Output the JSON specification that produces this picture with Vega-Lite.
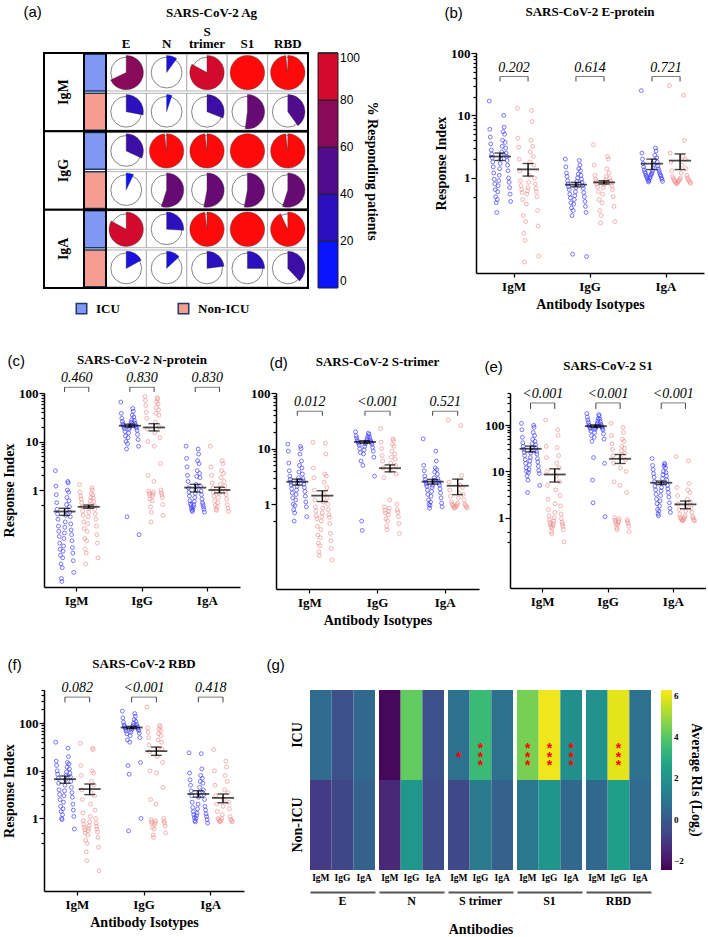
{
"$schema": "https://vega.github.io/schema/vega-lite/v6.json",
"padding": {"left": 2, "top": 3, "right": 0, "bottom": 0},
"background": "white",
"config": {
  "view": {"stroke": null},
  "font": "Liberation Serif",
  "title": {"font": "Liberation Serif", "fontWeight": "bold", "fontSize": 13, "color": "black"},
  "axis": {"labelFont": "Liberation Serif", "titleFont": "Liberation Serif", "labelFontWeight": "bold", "titleFontWeight": "bold", "labelColor": "black", "titleColor": "black", "domainColor": "black", "tickColor": "black", "grid": false},
  "legend": {"labelFont": "Liberation Serif", "titleFont": "Liberation Serif", "labelColor": "black", "titleColor": "black"},
  "header": {"labelFont": "Liberation Serif", "titleFont": "Liberation Serif", "labelFontWeight": "bold", "titleFontWeight": "bold", "labelColor": "black", "titleColor": "black"}
},
"datasets": {
  "pts": [
    {"p":"E","i":"IgM","g":"ICU","v":[17,6,4.5,3.5,2.8,2.4,2.1,1.8,1.5,1.2,0.95,0.8,0.65,0.5,0.4,0.28,0.45,0.6,0.75,0.9,1.1,1.4,1.7,2,2.3,2.6,3.2,4,5.5,10,6.5,5,3.7,3,2.5,2.2,1.9,1.6,1.3,1,0.85,0.7,0.55,0.42]},
    {"p":"E","i":"IgM","g":"Non-ICU","v":[13,4.3,3.1,2,1.3,0.9,0.75,0.65,0.58,0.45,0.25,0.13,0.045,0.1,0.2,0.38,0.55,0.62,0.7,0.85,1.1,1.8,2.6,4,12,8,3.2,2.2,1.6,1,0.8,0.68,0.6,0.5,0.3,0.17,0.056]},
    {"p":"E","i":"IgG","g":"ICU","v":[2,1.5,1.2,1.05,0.9,0.8,0.72,0.65,0.55,0.48,0.4,0.33,0.25,0.06,0.3,0.38,0.45,0.52,0.6,0.7,0.78,0.88,1,1.15,1.4,1.9,1.6,1.3,1.1,0.95,0.85,0.75,0.68,0.58,0.5,0.42,0.35,0.28,0.055]},
    {"p":"E","i":"IgG","g":"Non-ICU","v":[3.4,1.6,1.1,0.95,0.88,0.8,0.72,0.6,0.45,0.3,0.19,0.25,0.4,0.55,0.7,0.78,0.85,0.92,1.05,1.4,2.2,2,1.2,1,0.9,0.82,0.75,0.65,0.5,0.35,0.2]},
    {"p":"E","i":"IgA","g":"ICU","v":[25,2.5,2,1.7,1.5,1.35,1.25,1.18,1.1,1.05,1,0.93,0.86,0.9,0.98,1.02,1.1,1.15,1.2,1.3,1.45,1.6,1.9,2.3,3,2.7,2.1,1.8,1.55,1.4,1.3,1.2,1.12,1.08,1,0.95,0.88]},
    {"p":"E","i":"IgA","g":"Non-ICU","v":[30,2.5,1.8,1.3,1.05,0.98,0.92,0.88,0.84,0.8,0.83,0.86,0.9,0.95,1,1.2,1.6,2.2,21,4,2,1.4,1.1,1,0.95,0.9,0.85,0.82]},
    {"p":"N","i":"IgM","g":"ICU","v":[2.5,1.2,0.8,0.55,0.4,0.32,0.25,0.18,0.14,0.11,0.08,0.06,0.045,0.03,0.015,0.013,0.025,0.04,0.055,0.07,0.1,0.13,0.17,0.22,0.3,0.38,0.5,0.7,1,1.5,1.4,0.9,0.6,0.45,0.35,0.28,0.2,0.15,0.12,0.09,0.065,0.05,0.035,0.02]},
    {"p":"N","i":"IgM","g":"Non-ICU","v":[1.3,0.9,0.75,0.65,0.55,0.45,0.37,0.3,0.22,0.16,0.1,0.06,0.03,0.05,0.09,0.14,0.2,0.28,0.35,0.42,0.5,0.6,0.7,0.85,1.1,1,0.8,0.68,0.58,0.48,0.4,0.32,0.25,0.18,0.12,0.08,0.04]},
    {"p":"N","i":"IgG","g":"ICU","v":[65,38,30,26,23,21.5,20,18.5,16,13,10,7,0.28,9,12,15,18,19.5,21,22.5,25,28,35,48,42,32,27,24,22,20.5,19,17,14,11,8,0.12]},
    {"p":"N","i":"IgG","g":"Non-ICU","v":[85,70,55,40,30,18,10,2,0.95,0.85,0.78,0.65,0.45,0.22,0.35,0.6,0.75,0.82,0.9,1.5,8,15,25,38,50,65,80,75,60,45,35,20,12,3.5,1,0.88,0.8,0.7,0.5,0.3]},
    {"p":"N","i":"IgA","g":"ICU","v":[8,4.5,3,2,1.5,1.1,0.9,0.75,0.6,0.52,0.48,0.42,0.38,0.36,0.4,0.45,0.5,0.58,0.7,0.85,1,1.3,1.9,2.5,4,7,5.5,3.5,2.2,1.8,1.2,0.95,0.8,0.65,0.55,0.5,0.45,0.4,0.35]},
    {"p":"N","i":"IgA","g":"Non-ICU","v":[8,3,2,1.4,1.1,0.9,0.75,0.6,0.48,0.4,0.38,0.45,0.55,0.7,0.85,1,1.3,1.8,2.5,4,3.5,2.2,1.5,1.2,0.95,0.8,0.65,0.5,0.42,0.36]},
    {"p":"S","i":"IgM","g":"ICU","v":[12,9,5.5,4,3.2,2.8,2.5,2.2,1.9,1.6,1.3,1,0.8,0.5,0.7,0.95,1.2,1.5,1.8,2.1,2.4,2.7,3,3.8,5,8,11,10,6,4.5,3.5,2.9,2.6,2.3,2,1.7,1.4,1.1,0.9,0.6]},
    {"p":"S","i":"IgM","g":"Non-ICU","v":[13,4.5,3,1.8,1.2,0.9,0.75,0.62,0.55,0.4,0.28,0.2,0.14,0.12,0.18,0.25,0.35,0.5,0.6,0.7,0.85,1.1,1.5,2.5,3.5,12.5,8,3.2,2,1.3,1,0.8,0.65,0.58,0.45,0.3,0.22,0.16,0.1]},
    {"p":"S","i":"IgG","g":"ICU","v":[20,17,15.5,14,13.2,12.5,11.5,10,8.5,6,0.5,0.34,5,8,9.5,11,12.2,13,13.8,15,16.5,19,18,16,14.5,13.5,12.8,12,10.5,9,7,3.2]},
    {"p":"S","i":"IgG","g":"Non-ICU","v":[23,13,10,7.5,6,4.5,3,0.9,0.78,0.7,0.55,0.4,0.35,0.5,0.65,0.75,0.85,1.2,4,5.5,7,9,12,15,14,11,8,6.5,5,3.5,1,0.8,0.72,0.6,0.45,0.3]},
    {"p":"S","i":"IgA","g":"ICU","v":[15,5,4,3.2,2.8,2.5,2.3,2.1,1.8,1.5,1.2,1,0.85,0.95,1.1,1.4,1.7,2,2.2,2.5,2.7,3,3.8,4.5,9,6,4.2,3.5,2.9,2.6,2.4,2.2,1.9,1.6,1.3,1.05,0.9]},
    {"p":"S","i":"IgA","g":"Non-ICU","v":[33,2.5,1.8,1.4,1.1,1,0.95,0.9,0.85,0.88,0.92,0.98,1.05,1.3,1.6,2.2,26,3.3,2,1.5,1.2,1,0.95,0.9,0.86]},
    {"p":"S1","i":"IgM","g":"ICU","v":[110,80,55,42,35,30,26,22,18,15,12,10,8,3.5,6.5,9.5,11,14,17,20,25,28,33,40,50,70,100,90,60,45,38,32,27,24,19,16,13,10.5,9,5]},
    {"p":"S1","i":"IgM","g":"Non-ICU","v":[130,35,20,10,5,2.5,1.5,1.1,0.9,0.78,0.7,0.62,0.5,0.45,0.6,0.68,0.75,0.85,1,1.3,2,4,8,15,33,80,60,22,12,6,3,1.8,1.2,0.95,0.8,0.72,0.65,0.55,0.3]},
    {"p":"S1","i":"IgG","g":"ICU","v":[180,150,130,115,102,96,90,84,75,60,45,6.5,2.1,20,55,70,82,88,94,100,110,125,140,170,160,135,120,105,98,92,86,80,65,50,15,1.05]},
    {"p":"S1","i":"IgG","g":"Non-ICU","v":[110,60,40,30,22,15,6,1,0.88,0.8,0.72,0.6,0.55,0.7,0.78,0.85,0.95,5,12,20,28,35,50,90,70,45,32,25,18,10,3.5,0.9,0.82,0.75,0.65,0.5]},
    {"p":"S1","i":"IgA","g":"ICU","v":[19,13.5,11,9,7.5,6,4.8,4,3.2,2.5,2,1.5,1.2,1.1,1.4,1.8,2.3,3,3.8,4.5,5.5,7,8.5,10,13,15,14,12,9.5,8,6.5,5,4.2,3.5,2.8,2.1,1.6,1.3]},
    {"p":"S1","i":"IgA","g":"Non-ICU","v":[21,4.5,3,2,1.5,1.2,1,0.95,0.9,0.85,0.88,0.92,1,1.1,1.4,1.8,2.5,4,17,5.5,3.5,2.2,1.6,1.3,1.05,0.98,0.9,0.86]},
    {"p":"RBD","i":"IgM","g":"ICU","v":[40,16,13,10,8.5,7,5.5,4,3.2,2.5,1.8,1.4,1,0.95,1.2,1.6,2.2,3,3.8,5,6.5,8,9.5,12,15,30,20,14,11,9,7.5,6,4.5,3.5,2.8,2,1.5,1.1,0.6]},
    {"p":"RBD","i":"IgM","g":"Non-ICU","v":[38,13,8,4,2.5,1.3,0.9,0.75,0.65,0.58,0.5,0.35,0.2,0.13,0.3,0.45,0.55,0.62,0.7,0.85,1.1,2,3.5,6,10,30,28,9,5,3,1.5,1,0.8,0.68,0.6,0.52,0.4,0.25,0.08]},
    {"p":"RBD","i":"IgG","g":"ICU","v":[180,130,105,92,86,80,74,68,60,45,13,0.55,8.5,40,55,65,72,78,84,90,100,120,160,140,110,95,88,82,76,70,62,50,15,1]},
    {"p":"RBD","i":"IgG","g":"Non-ICU","v":[220,80,65,50,35,25,10,2.5,0.95,0.85,0.78,0.65,0.45,0.4,0.6,0.75,0.82,0.9,2,9,20,30,45,60,75,90,85,70,55,40,28,15,4.5,1,0.88,0.8,0.7,0.5]},
    {"p":"RBD","i":"IgA","g":"ICU","v":[24,9,6.5,5,3.8,3,2.2,1.7,1.4,1.2,1.05,0.9,0.85,1,1.15,1.3,1.6,2,2.8,3.5,4.5,6,8,23,11,7,5.5,4,3.2,2.5,1.8,1.5,1.25,1.1,0.95,0.8]},
    {"p":"RBD","i":"IgA","g":"Non-ICU","v":[28,10,5,3,2,1.4,1,0.95,0.88,0.86,0.9,1,1.2,1.8,2.5,4,8,16,12,6,3.5,2.2,1.6,1.1,0.95,0.9,0.85]}
  ],
  "sum": [
    {"p":"E","i":"IgM","g":"ICU","m":2.2,"lo":1.9,"hi":2.5},
    {"p":"E","i":"IgM","g":"Non-ICU","m":1.37,"lo":1.07,"hi":1.7},
    {"p":"E","i":"IgG","g":"ICU","m":0.78,"lo":0.72,"hi":0.85},
    {"p":"E","i":"IgG","g":"Non-ICU","m":0.85,"lo":0.8,"hi":0.9},
    {"p":"E","i":"IgA","g":"ICU","m":1.69,"lo":1.36,"hi":2.0},
    {"p":"E","i":"IgA","g":"Non-ICU","m":1.89,"lo":1.36,"hi":2.42},
    {"p":"N","i":"IgM","g":"ICU","m":0.36,"lo":0.3,"hi":0.42},
    {"p":"N","i":"IgM","g":"Non-ICU","m":0.45,"lo":0.42,"hi":0.49},
    {"p":"N","i":"IgG","g":"ICU","m":21.2,"lo":19.8,"hi":22.8},
    {"p":"N","i":"IgG","g":"Non-ICU","m":19.5,"lo":16.5,"hi":23.3},
    {"p":"N","i":"IgA","g":"ICU","m":1.12,"lo":0.91,"hi":1.31},
    {"p":"N","i":"IgA","g":"Non-ICU","m":1.0,"lo":0.87,"hi":1.14},
    {"p":"S","i":"IgM","g":"ICU","m":2.54,"lo":2.21,"hi":2.83},
    {"p":"S","i":"IgM","g":"Non-ICU","m":1.43,"lo":1.12,"hi":1.75},
    {"p":"S","i":"IgG","g":"ICU","m":13.2,"lo":12.5,"hi":13.9},
    {"p":"S","i":"IgG","g":"Non-ICU","m":4.45,"lo":3.83,"hi":5.1},
    {"p":"S","i":"IgA","g":"ICU","m":2.55,"lo":2.3,"hi":2.8},
    {"p":"S","i":"IgA","g":"Non-ICU","m":2.15,"lo":1.49,"hi":2.83},
    {"p":"S1","i":"IgM","g":"ICU","m":31,"lo":26.6,"hi":35.4},
    {"p":"S1","i":"IgM","g":"Non-ICU","m":8.6,"lo":5.9,"hi":11.4},
    {"p":"S1","i":"IgG","g":"ICU","m":95.7,"lo":90,"hi":102},
    {"p":"S1","i":"IgG","g":"Non-ICU","m":18.8,"lo":14.9,"hi":23.3},
    {"p":"S1","i":"IgA","g":"ICU","m":5.7,"lo":5.2,"hi":6.2},
    {"p":"S1","i":"IgA","g":"Non-ICU","m":1.94,"lo":1.56,"hi":2.29},
    {"p":"RBD","i":"IgM","g":"ICU","m":6.7,"lo":5.5,"hi":7.8},
    {"p":"RBD","i":"IgM","g":"Non-ICU","m":4.15,"lo":3.17,"hi":5.3},
    {"p":"RBD","i":"IgG","g":"ICU","m":81.5,"lo":77,"hi":86},
    {"p":"RBD","i":"IgG","g":"Non-ICU","m":26,"lo":21.2,"hi":31.6},
    {"p":"RBD","i":"IgA","g":"ICU","m":3.27,"lo":2.8,"hi":3.83},
    {"p":"RBD","i":"IgA","g":"Non-ICU","m":2.71,"lo":2.14,"hi":3.27}
  ],
  "pv": [
    {"p":"E","i":"IgM","t":"0.202"},{"p":"E","i":"IgG","t":"0.614"},{"p":"E","i":"IgA","t":"0.721"},
    {"p":"N","i":"IgM","t":"0.460"},{"p":"N","i":"IgG","t":"0.830"},{"p":"N","i":"IgA","t":"0.830"},
    {"p":"S","i":"IgM","t":"0.012"},{"p":"S","i":"IgG","t":"<0.001"},{"p":"S","i":"IgA","t":"0.521"},
    {"p":"S1","i":"IgM","t":"<0.001"},{"p":"S1","i":"IgG","t":"<0.001"},{"p":"S1","i":"IgA","t":"<0.001"},
    {"p":"RBD","i":"IgM","t":"0.082"},{"p":"RBD","i":"IgG","t":"<0.001"},{"p":"RBD","i":"IgA","t":"0.418"}
  ],
  "pie": [
    {"iso":"IgM","g":"ICU","ag":"E","pct":68},{"iso":"IgM","g":"ICU","ag":"N","pct":10},{"iso":"IgM","g":"ICU","ag":"S trimer","pct":83},{"iso":"IgM","g":"ICU","ag":"S1","pct":100},{"iso":"IgM","g":"ICU","ag":"RBD","pct":98},
    {"iso":"IgM","g":"Non-ICU","ag":"E","pct":28},{"iso":"IgM","g":"Non-ICU","ag":"N","pct":5},{"iso":"IgM","g":"Non-ICU","ag":"S trimer","pct":31},{"iso":"IgM","g":"Non-ICU","ag":"S1","pct":52},{"iso":"IgM","g":"Non-ICU","ag":"RBD","pct":40},
    {"iso":"IgG","g":"ICU","ag":"E","pct":32},{"iso":"IgG","g":"ICU","ag":"N","pct":98},{"iso":"IgG","g":"ICU","ag":"S trimer","pct":98},{"iso":"IgG","g":"ICU","ag":"S1","pct":100},{"iso":"IgG","g":"ICU","ag":"RBD","pct":98},
    {"iso":"IgG","g":"Non-ICU","ag":"E","pct":7},{"iso":"IgG","g":"Non-ICU","ag":"N","pct":55},{"iso":"IgG","g":"Non-ICU","ag":"S trimer","pct":53},{"iso":"IgG","g":"Non-ICU","ag":"S1","pct":53},{"iso":"IgG","g":"Non-ICU","ag":"RBD","pct":55},
    {"iso":"IgA","g":"ICU","ag":"E","pct":83},{"iso":"IgA","g":"ICU","ag":"N","pct":26},{"iso":"IgA","g":"ICU","ag":"S trimer","pct":98},{"iso":"IgA","g":"ICU","ag":"S1","pct":100},{"iso":"IgA","g":"ICU","ag":"RBD","pct":93},
    {"iso":"IgA","g":"Non-ICU","ag":"E","pct":17},{"iso":"IgA","g":"Non-ICU","ag":"N","pct":13},{"iso":"IgA","g":"Non-ICU","ag":"S trimer","pct":23},{"iso":"IgA","g":"Non-ICU","ag":"S1","pct":25},{"iso":"IgA","g":"Non-ICU","ag":"RBD","pct":38}
  ],
  "heat": [
    {"ag":"E","i":"IgM","g":"ICU","val":0.6},
    {"ag":"E","i":"IgG","g":"ICU","val":-0.35},
    {"ag":"E","i":"IgA","g":"ICU","val":0.45},
    {"ag":"N","i":"IgM","g":"ICU","val":-2.3},
    {"ag":"N","i":"IgG","g":"ICU","val":4.2},
    {"ag":"N","i":"IgA","g":"ICU","val":-0.35},
    {"ag":"S trimer","i":"IgM","g":"ICU","val":0.8,"s":1},
    {"ag":"S trimer","i":"IgG","g":"ICU","val":3.5,"s":3},
    {"ag":"S trimer","i":"IgA","g":"ICU","val":0.8},
    {"ag":"S1","i":"IgM","g":"ICU","val":4.5,"s":3},
    {"ag":"S1","i":"IgG","g":"ICU","val":6.1,"s":3},
    {"ag":"S1","i":"IgA","g":"ICU","val":1.9,"s":3},
    {"ag":"RBD","i":"IgM","g":"ICU","val":1.95},
    {"ag":"RBD","i":"IgG","g":"ICU","val":5.95,"s":3},
    {"ag":"RBD","i":"IgA","g":"ICU","val":0.8},
    {"ag":"E","i":"IgM","g":"Non-ICU","val":-0.95},
    {"ag":"E","i":"IgG","g":"Non-ICU","val":-0.6},
    {"ag":"E","i":"IgA","g":"Non-ICU","val":0.25},
    {"ag":"N","i":"IgM","g":"Non-ICU","val":-1.5},
    {"ag":"N","i":"IgG","g":"Non-ICU","val":2.2},
    {"ag":"N","i":"IgA","g":"Non-ICU","val":-0.45},
    {"ag":"S trimer","i":"IgM","g":"Non-ICU","val":-0.55},
    {"ag":"S trimer","i":"IgG","g":"Non-ICU","val":1.15},
    {"ag":"S trimer","i":"IgA","g":"Non-ICU","val":0.25},
    {"ag":"S1","i":"IgM","g":"Non-ICU","val":1.05},
    {"ag":"S1","i":"IgG","g":"Non-ICU","val":2.1},
    {"ag":"S1","i":"IgA","g":"Non-ICU","val":0.5},
    {"ag":"RBD","i":"IgM","g":"Non-ICU","val":0.45},
    {"ag":"RBD","i":"IgG","g":"Non-ICU","val":2.45},
    {"ag":"RBD","i":"IgA","g":"Non-ICU","val":0.55}
  ]
},
"spacing": 36,
"resolve": {"scale": {"color": "independent", "fill": "independent"}},
"vconcat": [
{
  "spacing": 54,
  "resolve": {"scale": {"color": "independent", "fill": "independent"}},
  "hconcat": [
  {
    "bounds": "flush",
    "spacing": 0,
    "resolve": {"scale": {"color": "independent", "fill": "independent"}},
    "hconcat": [
      {
        "width": 40, "height": 235,
        "view": {"stroke": "black", "strokeWidth": 2},
        "data": {"name": "pie"},
        "transform": [{"aggregate": [], "groupby": ["iso"]}],
        "encoding": {"y": {"field": "iso", "type": "nominal", "sort": ["IgM","IgG","IgA"], "scale": {"paddingInner": 0, "paddingOuter": 0},
          "axis": {"title": "(a)", "titleFont": "Liberation Sans", "titleFontWeight": "normal", "titleFontSize": 15, "titleAngle": 0, "titleAlign": "left", "titleBaseline": "top", "titleX": -21, "titleY": -49, "labels": false, "ticks": false, "domain": false, "grid": false}}},
        "layer": [
          {"mark": {"type": "rect", "fill": "white", "stroke": "black", "strokeWidth": 2}},
          {"mark": {"type": "text", "angle": 270, "fontSize": 14, "fontWeight": "bold", "font": "Liberation Serif", "baseline": "middle", "align": "center", "color": "black"},
           "encoding": {"text": {"field": "iso"}}}
        ]
      },
      {
        "width": 22, "height": 235,
        "view": {"stroke": "black", "strokeWidth": 2},
        "data": {"name": "pie"},
        "layer": [
          {"transform": [{"aggregate": [], "groupby": ["iso", "g"]}],
           "mark": {"type": "rect", "stroke": "#1f3864", "strokeWidth": 1.5},
           "encoding": {
             "y": {"field": "iso", "type": "nominal", "sort": ["IgM","IgG","IgA"], "scale": {"paddingInner": 0, "paddingOuter": 0}, "axis": null},
             "yOffset": {"field": "g", "type": "nominal", "sort": ["ICU","Non-ICU"], "scale": {"paddingInner": 0.06, "paddingOuter": 0.03}},
             "fill": {"field": "g", "type": "nominal", "scale": {"domain": ["ICU","Non-ICU"], "range": ["#7f98f5","#f59d90"]},
               "legend": {"orient": "bottom", "offset": 14, "title": null, "direction": "horizontal", "symbolType": "square", "symbolSize": 110, "symbolStrokeColor": "#1f3864", "symbolStrokeWidth": 1.5, "labelFontSize": 13, "labelFontWeight": "bold", "columnPadding": 55, "labelOffset": 8, "symbolOffset": -9}}
           }},
          {"transform": [{"aggregate": [], "groupby": ["iso"]}],
           "mark": {"type": "rect", "fillOpacity": 0, "stroke": "black", "strokeWidth": 2},
           "encoding": {"y": {"field": "iso", "type": "nominal", "sort": ["IgM","IgG","IgA"], "scale": {"paddingInner": 0, "paddingOuter": 0}, "axis": null}}}
        ]
      },
      {
        "width": 202, "height": 235,
        "view": {"stroke": "black", "strokeWidth": 2},
        "data": {"name": "pie"},
        "layer": [
          {"mark": {"type": "rect", "fill": "white", "stroke": "#a0a0a0", "strokeWidth": 0.8},
           "encoding": {
             "x": {"field": "ag", "type": "nominal", "sort": ["E","N","S trimer","S1","RBD"], "scale": {"paddingInner": 0, "paddingOuter": 0}, "axis": {"orient": "top", "title": "SARS-CoV-2 Ag", "titleX": 105, "titleY": -34, "titleAlign": "center", "titleBaseline": "bottom", "titleFontSize": 13, "titleAngle": 0, "labelAngle": 0, "domain": false, "ticks": false, "labelFontSize": 13, "labelPadding": 15, "labelLineHeight": 12, "labelBaseline": "bottom", "labelExpr": "datum.label == 'S trimer' ? ['S','trimer'] : ['', datum.label]"}},
             "y": {"field": "iso", "type": "nominal", "sort": ["IgM","IgG","IgA"], "scale": {"paddingInner": 0, "paddingOuter": 0}, "axis": null},
             "yOffset": {"field": "g", "type": "nominal", "sort": ["ICU","Non-ICU"], "scale": {"paddingInner": 0, "paddingOuter": 0}}
           }},
          {"mark": {"type": "point", "shape": "circle", "size": 950, "filled": true, "fill": "white", "stroke": "#666666", "strokeWidth": 0.8, "opacity": 1},
           "encoding": {
             "x": {"field": "ag", "type": "nominal", "sort": ["E","N","S trimer","S1","RBD"], "scale": {"paddingInner": 0, "paddingOuter": 0}, "axis": {"orient": "top", "title": "SARS-CoV-2 Ag", "titleX": 105, "titleY": -34, "titleAlign": "center", "titleBaseline": "bottom", "titleFontSize": 13, "titleAngle": 0, "labelAngle": 0, "domain": false, "ticks": false, "labelFontSize": 13, "labelPadding": 15, "labelLineHeight": 12, "labelBaseline": "bottom", "labelExpr": "datum.label == 'S trimer' ? ['S','trimer'] : ['', datum.label]"}},
             "y": {"field": "iso", "type": "nominal", "sort": ["IgM","IgG","IgA"], "scale": {"paddingInner": 0, "paddingOuter": 0}, "axis": null},
             "yOffset": {"field": "g", "type": "nominal", "sort": ["ICU","Non-ICU"], "scale": {"paddingInner": 0, "paddingOuter": 0}}
           }},
          {"mark": {"type": "arc", "outerRadius": 17.2, "stroke": "#333333", "strokeWidth": 0.4},
           "encoding": {
             "x": {"field": "ag", "type": "nominal", "sort": ["E","N","S trimer","S1","RBD"], "scale": {"paddingInner": 0, "paddingOuter": 0}, "axis": {"orient": "top", "title": "SARS-CoV-2 Ag", "titleX": 105, "titleY": -34, "titleAlign": "center", "titleBaseline": "bottom", "titleFontSize": 13, "titleAngle": 0, "labelAngle": 0, "domain": false, "ticks": false, "labelFontSize": 13, "labelPadding": 15, "labelLineHeight": 12, "labelBaseline": "bottom", "labelExpr": "datum.label == 'S trimer' ? ['S','trimer'] : ['', datum.label]"}},
             "y": {"field": "iso", "type": "nominal", "sort": ["IgM","IgG","IgA"], "scale": {"paddingInner": 0, "paddingOuter": 0}, "axis": null},
             "yOffset": {"field": "g", "type": "nominal", "sort": ["ICU","Non-ICU"], "scale": {"paddingInner": 0, "paddingOuter": 0}},
             "theta": {"field": "pct", "type": "quantitative", "scale": {"domain": [0, 100], "range": [0, 6.2832]}, "stack": null},
             "theta2": {"datum": 0},
             "color": {"field": "pct", "type": "quantitative",
               "scale": {"type": "quantize", "domain": [0, 100], "range": ["#0a14ff","#1c12dc","#2c10c0","#3c0ea6","#500c8c","#680a74","#8a0a5a","#b00a44","#d20a2e","#ff0a0a"]},
               "legend": {"title": "% Responding patients", "orient": "right", "type": "gradient", "gradientLength": 235, "gradientThickness": 20, "offset": 10, "titleOrient": "right", "titleFontSize": 14, "titleFontWeight": "bold", "labelFont": "Liberation Sans", "labelFontSize": 12, "labelFontWeight": "normal", "values": [0.5, 20, 40, 60, 80, 100], "labelExpr": "datum.value < 1 ? '0' : datum.label", "gradientStrokeColor": "#222222", "gradientStrokeWidth": 1}}
           }},
          {"transform": [{"aggregate": [], "groupby": ["iso"]}],
           "mark": {"type": "rect", "fillOpacity": 0, "stroke": "black", "strokeWidth": 2},
           "encoding": {"y": {"field": "iso", "type": "nominal", "sort": ["IgM","IgG","IgA"], "scale": {"paddingInner": 0, "paddingOuter": 0}, "axis": null}}}
        ]
      }
    ]
  },
  {
    "title": {"text": "(b)", "anchor": "start", "frame": "bounds", "font": "Liberation Sans", "fontWeight": "normal", "fontSize": 15, "offset": -15, "dx": 10},
    "vconcat": [{
      "width": 228, "height": 220,
      "title": {"text": "SARS-CoV-2 E-protein", "offset": 28},
      "encoding": {"x": {"field": "i", "type": "nominal", "sort": ["IgM","IgG","IgA"], "scale": {"paddingInner": 0, "paddingOuter": 0}, "axis": {"title": "Antibody Isotypes", "labelAngle": 0, "labelFontSize": 13, "titleFontSize": 14, "domainWidth": 1.5, "tickWidth": 1.2, "tickSize": 4, "labelPadding": 3, "titlePadding": 4}}},
      "resolve": {"scale": {"xOffset": "independent"}},
      "layer": [
        {"data": {"name": "pts"}, "transform": [{"filter": "datum.p=='E' && datum.g=='ICU'"}, {"flatten": ["v"]}, {"window": [{"op": "row_number", "as": "rn"}], "groupby": ["i"]}, {"window": [{"op": "percent_rank", "as": "pr"}], "sort": [{"field": "rn"}], "groupby": ["i"]}],
         "mark": {"type": "point", "filled": false, "size": 15, "strokeWidth": 0.8, "color": "#3a3aff", "opacity": 0.85},
         "encoding": {"y": {"field": "v", "type": "quantitative", "scale": {"type": "log", "domain": [0.03, 100]}, "title": "Response Index", "axis": {"values": [0.5,2,3,4,5,6,7,8,9,1,10,20,30,40,50,60,70,80,90,100], "labelExpr": "datum.value == 1 ? '1' : datum.value == 10 ? '10' : datum.value == 100 ? '100' : ''", "tickSize": {"condition": {"test": "datum.value == 1 || datum.value == 10 || datum.value == 100", "value": 5}, "value": 3}, "tickWidth": 1.2, "labelFontSize": 13, "titleFontSize": 14, "domainWidth": 1.5, "labelPadding": 1, "titlePadding": 2}},
           "xOffset": {"field": "pr", "type": "quantitative", "scale": {"domain": [-0.625, 2.946], "nice": false, "zero": false}}}},
        {"data": {"name": "pts"}, "transform": [{"filter": "datum.p=='E' && datum.g=='Non-ICU'"}, {"flatten": ["v"]}, {"window": [{"op": "row_number", "as": "rn"}], "groupby": ["i"]}, {"window": [{"op": "percent_rank", "as": "pr"}], "sort": [{"field": "rn"}], "groupby": ["i"]}],
         "mark": {"type": "point", "filled": false, "size": 15, "strokeWidth": 0.8, "color": "#f0908f", "opacity": 0.85},
         "encoding": {"y": {"field": "v", "type": "quantitative", "scale": {"type": "log", "domain": [0.03, 100]}, "title": "Response Index"},
           "xOffset": {"field": "pr", "type": "quantitative", "scale": {"domain": [-1.946, 1.625], "nice": false, "zero": false}}}},
        {"data": {"name": "sum"}, "transform": [{"filter": "datum.p=='E'"}],
         "mark": {"type": "tick", "orient": "horizontal", "size": 22, "thickness": 1.8, "color": "black"},
         "encoding": {"y": {"field": "m", "type": "quantitative", "scale": {"type": "log", "domain": [0.03, 100]}, "title": "Response Index"}, "xOffset": {"field": "g", "type": "nominal", "sort": ["ICU","Non-ICU"], "scale": {"paddingInner": 0.5, "paddingOuter": 0.6}}}},
        {"data": {"name": "sum"}, "transform": [{"filter": "datum.p=='E'"}],
         "mark": {"type": "rule", "strokeWidth": 1.4, "color": "black"},
         "encoding": {"y": {"field": "lo", "type": "quantitative", "scale": {"type": "log", "domain": [0.03, 100]}, "title": "Response Index"}, "y2": {"field": "hi"}, "xOffset": {"field": "g", "type": "nominal", "sort": ["ICU","Non-ICU"], "scale": {"paddingInner": 0.5, "paddingOuter": 0.6}}}},
        {"data": {"name": "sum"}, "transform": [{"filter": "datum.p=='E'"}, {"fold": ["lo","hi"], "as": ["k","cv"]}],
         "mark": {"type": "tick", "orient": "horizontal", "size": 11, "thickness": 1.4, "color": "black"},
         "encoding": {"y": {"field": "cv", "type": "quantitative", "scale": {"type": "log", "domain": [0.03, 100]}, "title": "Response Index"}, "xOffset": {"field": "g", "type": "nominal", "sort": ["ICU","Non-ICU"], "scale": {"paddingInner": 0.5, "paddingOuter": 0.6}}}},
        {"data": {"name": "sum"}, "transform": [{"filter": "datum.p=='E'"}],
         "mark": {"type": "rule", "strokeWidth": 1, "color": "#444444"},
         "encoding": {"y": {"datum": 35, "type": "quantitative", "scale": {"type": "log", "domain": [0.03, 100]}, "title": "Response Index"}, "y2": {"datum": 42}, "xOffset": {"field": "g", "type": "nominal", "sort": ["ICU","Non-ICU"], "scale": {"paddingInner": 0.5, "paddingOuter": 0.6}}}},
        {"data": {"name": "pv"}, "transform": [{"filter": "datum.p=='E'"}],
         "mark": {"type": "tick", "orient": "horizontal", "size": 28, "thickness": 1, "color": "#444444"},
         "encoding": {"y": {"datum": 42, "type": "quantitative", "scale": {"type": "log", "domain": [0.03, 100]}, "title": "Response Index"}}},
        {"data": {"name": "pv"}, "transform": [{"filter": "datum.p=='E'"}],
         "mark": {"type": "text", "font": "Liberation Serif", "fontStyle": "italic", "fontSize": 14, "baseline": "alphabetic", "dy": -5, "color": "black"},
         "encoding": {"y": {"datum": 42, "type": "quantitative", "scale": {"type": "log", "domain": [0.03, 100]}, "title": "Response Index"}, "text": {"field": "t"}}}
      ]
    }]
  }
  ]
},
{
  "spacing": 30,
  "resolve": {"scale": {"color": "independent", "fill": "independent"}},
  "vconcat": [
  {
    "spacing": 10,
    "hconcat": [
    {
      "title": {"text": "(c)", "anchor": "start", "frame": "bounds", "font": "Liberation Sans", "fontWeight": "normal", "fontSize": 15, "offset": -15, "dx": 5},
      "vconcat": [{
        "width": 196, "height": 194,
        "title": {"text": "SARS-CoV-2 N-protein", "offset": 4},
        "encoding": {"x": {"field": "i", "type": "nominal", "sort": ["IgM","IgG","IgA"], "scale": {"paddingInner": 0, "paddingOuter": 0}, "axis": {"title": null, "labelAngle": 0, "labelFontSize": 13, "titleFontSize": 14, "domainWidth": 1.5, "tickWidth": 1.2, "tickSize": 4, "labelPadding": 3, "titlePadding": 4}}},
        "resolve": {"scale": {"xOffset": "independent"}},
        "layer": [
          {"data": {"name": "pts"}, "transform": [{"filter": "datum.p=='N' && datum.g=='ICU'"}, {"flatten": ["v"]}, {"window": [{"op": "row_number", "as": "rn"}], "groupby": ["i"]}, {"window": [{"op": "percent_rank", "as": "pr"}], "sort": [{"field": "rn"}], "groupby": ["i"]}],
           "mark": {"type": "point", "filled": false, "size": 15, "strokeWidth": 0.8, "color": "#3a3aff", "opacity": 0.85},
           "encoding": {"y": {"field": "v", "type": "quantitative", "scale": {"type": "log", "domain": [0.01, 100]}, "title": "Response Index", "axis": {"values": [0.5,2,3,4,5,6,7,8,9,1,10,20,30,40,50,60,70,80,90,100], "labelExpr": "datum.value == 1 ? '1' : datum.value == 10 ? '10' : datum.value == 100 ? '100' : ''", "tickSize": {"condition": {"test": "datum.value == 1 || datum.value == 10 || datum.value == 100", "value": 5}, "value": 3}, "tickWidth": 1.2, "labelFontSize": 13, "titleFontSize": 14, "domainWidth": 1.5, "labelPadding": 1, "titlePadding": 2}},
             "xOffset": {"field": "pr", "type": "quantitative", "scale": {"domain": [-0.625, 2.946], "nice": false, "zero": false}}}},
          {"data": {"name": "pts"}, "transform": [{"filter": "datum.p=='N' && datum.g=='Non-ICU'"}, {"flatten": ["v"]}, {"window": [{"op": "row_number", "as": "rn"}], "groupby": ["i"]}, {"window": [{"op": "percent_rank", "as": "pr"}], "sort": [{"field": "rn"}], "groupby": ["i"]}],
           "mark": {"type": "point", "filled": false, "size": 15, "strokeWidth": 0.8, "color": "#f0908f", "opacity": 0.85},
           "encoding": {"y": {"field": "v", "type": "quantitative", "scale": {"type": "log", "domain": [0.01, 100]}, "title": "Response Index"},
             "xOffset": {"field": "pr", "type": "quantitative", "scale": {"domain": [-1.946, 1.625], "nice": false, "zero": false}}}},
          {"data": {"name": "sum"}, "transform": [{"filter": "datum.p=='N'"}],
           "mark": {"type": "tick", "orient": "horizontal", "size": 22, "thickness": 1.8, "color": "black"},
           "encoding": {"y": {"field": "m", "type": "quantitative", "scale": {"type": "log", "domain": [0.01, 100]}, "title": "Response Index"}, "xOffset": {"field": "g", "type": "nominal", "sort": ["ICU","Non-ICU"], "scale": {"paddingInner": 0.5, "paddingOuter": 0.6}}}},
          {"data": {"name": "sum"}, "transform": [{"filter": "datum.p=='N'"}],
           "mark": {"type": "rule", "strokeWidth": 1.4, "color": "black"},
           "encoding": {"y": {"field": "lo", "type": "quantitative", "scale": {"type": "log", "domain": [0.01, 100]}, "title": "Response Index"}, "y2": {"field": "hi"}, "xOffset": {"field": "g", "type": "nominal", "sort": ["ICU","Non-ICU"], "scale": {"paddingInner": 0.5, "paddingOuter": 0.6}}}},
          {"data": {"name": "sum"}, "transform": [{"filter": "datum.p=='N'"}, {"fold": ["lo","hi"], "as": ["k","cv"]}],
           "mark": {"type": "tick", "orient": "horizontal", "size": 11, "thickness": 1.4, "color": "black"},
           "encoding": {"y": {"field": "cv", "type": "quantitative", "scale": {"type": "log", "domain": [0.01, 100]}, "title": "Response Index"}, "xOffset": {"field": "g", "type": "nominal", "sort": ["ICU","Non-ICU"], "scale": {"paddingInner": 0.5, "paddingOuter": 0.6}}}},
          {"data": {"name": "sum"}, "transform": [{"filter": "datum.p=='N'"}],
           "mark": {"type": "rule", "strokeWidth": 1, "color": "#444444"},
           "encoding": {"y": {"datum": 105, "type": "quantitative", "scale": {"type": "log", "domain": [0.01, 100]}, "title": "Response Index"}, "y2": {"datum": 131}, "xOffset": {"field": "g", "type": "nominal", "sort": ["ICU","Non-ICU"], "scale": {"paddingInner": 0.5, "paddingOuter": 0.6}}}},
          {"data": {"name": "pv"}, "transform": [{"filter": "datum.p=='N'"}],
           "mark": {"type": "tick", "orient": "horizontal", "size": 25, "thickness": 1, "color": "#444444"},
           "encoding": {"y": {"datum": 131, "type": "quantitative", "scale": {"type": "log", "domain": [0.01, 100]}, "title": "Response Index"}}},
          {"data": {"name": "pv"}, "transform": [{"filter": "datum.p=='N'"}],
           "mark": {"type": "text", "font": "Liberation Serif", "fontStyle": "italic", "fontSize": 14, "baseline": "alphabetic", "dy": -5, "color": "black"},
           "encoding": {"y": {"datum": 131, "type": "quantitative", "scale": {"type": "log", "domain": [0.01, 100]}, "title": "Response Index"}, "text": {"field": "t"}}}
        ]
      }]
    },
    {
      "spacing": 5,
      "hconcat": [
      {
        "title": {"text": "(d)", "anchor": "start", "frame": "bounds", "font": "Liberation Sans", "fontWeight": "normal", "fontSize": 15, "offset": -15, "dx": 19},
        "vconcat": [{
          "width": 203, "height": 196,
          "title": {"text": "SARS-CoV-2 S-trimer", "offset": 18},
          "encoding": {"x": {"field": "i", "type": "nominal", "sort": ["IgM","IgG","IgA"], "scale": {"paddingInner": 0, "paddingOuter": 0}, "axis": {"title": "Antibody Isotypes", "labelAngle": 0, "labelFontSize": 13, "titleFontSize": 14, "domainWidth": 1.5, "tickWidth": 1.2, "tickSize": 4, "labelPadding": 3, "titlePadding": 4}}},
          "resolve": {"scale": {"xOffset": "independent"}},
          "layer": [
            {"data": {"name": "pts"}, "transform": [{"filter": "datum.p=='S' && datum.g=='ICU'"}, {"flatten": ["v"]}, {"window": [{"op": "row_number", "as": "rn"}], "groupby": ["i"]}, {"window": [{"op": "percent_rank", "as": "pr"}], "sort": [{"field": "rn"}], "groupby": ["i"]}],
             "mark": {"type": "point", "filled": false, "size": 15, "strokeWidth": 0.8, "color": "#3a3aff", "opacity": 0.85},
             "encoding": {"y": {"field": "v", "type": "quantitative", "scale": {"type": "log", "domain": [0.03, 100]}, "title": null, "axis": {"values": [0.5,2,3,4,5,6,7,8,9,1,10,20,30,40,50,60,70,80,90,100], "labelExpr": "datum.value == 1 ? '1' : datum.value == 10 ? '10' : datum.value == 100 ? '100' : ''", "tickSize": {"condition": {"test": "datum.value == 1 || datum.value == 10 || datum.value == 100", "value": 5}, "value": 3}, "tickWidth": 1.2, "labelFontSize": 13, "titleFontSize": 14, "domainWidth": 1.5, "labelPadding": 1, "titlePadding": 2}},
               "xOffset": {"field": "pr", "type": "quantitative", "scale": {"domain": [-0.625, 2.946], "nice": false, "zero": false}}}},
            {"data": {"name": "pts"}, "transform": [{"filter": "datum.p=='S' && datum.g=='Non-ICU'"}, {"flatten": ["v"]}, {"window": [{"op": "row_number", "as": "rn"}], "groupby": ["i"]}, {"window": [{"op": "percent_rank", "as": "pr"}], "sort": [{"field": "rn"}], "groupby": ["i"]}],
             "mark": {"type": "point", "filled": false, "size": 15, "strokeWidth": 0.8, "color": "#f0908f", "opacity": 0.85},
             "encoding": {"y": {"field": "v", "type": "quantitative", "scale": {"type": "log", "domain": [0.03, 100]}, "title": null},
               "xOffset": {"field": "pr", "type": "quantitative", "scale": {"domain": [-1.946, 1.625], "nice": false, "zero": false}}}},
            {"data": {"name": "sum"}, "transform": [{"filter": "datum.p=='S'"}],
             "mark": {"type": "tick", "orient": "horizontal", "size": 22, "thickness": 1.8, "color": "black"},
             "encoding": {"y": {"field": "m", "type": "quantitative", "scale": {"type": "log", "domain": [0.03, 100]}, "title": null}, "xOffset": {"field": "g", "type": "nominal", "sort": ["ICU","Non-ICU"], "scale": {"paddingInner": 0.5, "paddingOuter": 0.6}}}},
            {"data": {"name": "sum"}, "transform": [{"filter": "datum.p=='S'"}],
             "mark": {"type": "rule", "strokeWidth": 1.4, "color": "black"},
             "encoding": {"y": {"field": "lo", "type": "quantitative", "scale": {"type": "log", "domain": [0.03, 100]}, "title": null}, "y2": {"field": "hi"}, "xOffset": {"field": "g", "type": "nominal", "sort": ["ICU","Non-ICU"], "scale": {"paddingInner": 0.5, "paddingOuter": 0.6}}}},
            {"data": {"name": "sum"}, "transform": [{"filter": "datum.p=='S'"}, {"fold": ["lo","hi"], "as": ["k","cv"]}],
             "mark": {"type": "tick", "orient": "horizontal", "size": 11, "thickness": 1.4, "color": "black"},
             "encoding": {"y": {"field": "cv", "type": "quantitative", "scale": {"type": "log", "domain": [0.03, 100]}, "title": null}, "xOffset": {"field": "g", "type": "nominal", "sort": ["ICU","Non-ICU"], "scale": {"paddingInner": 0.5, "paddingOuter": 0.6}}}},
            {"data": {"name": "sum"}, "transform": [{"filter": "datum.p=='S'"}],
             "mark": {"type": "rule", "strokeWidth": 1, "color": "#444444"},
             "encoding": {"y": {"datum": 39, "type": "quantitative", "scale": {"type": "log", "domain": [0.03, 100]}, "title": null}, "y2": {"datum": 47}, "xOffset": {"field": "g", "type": "nominal", "sort": ["ICU","Non-ICU"], "scale": {"paddingInner": 0.5, "paddingOuter": 0.6}}}},
            {"data": {"name": "pv"}, "transform": [{"filter": "datum.p=='S'"}],
             "mark": {"type": "tick", "orient": "horizontal", "size": 25, "thickness": 1, "color": "#444444"},
             "encoding": {"y": {"datum": 47, "type": "quantitative", "scale": {"type": "log", "domain": [0.03, 100]}, "title": null}}},
            {"data": {"name": "pv"}, "transform": [{"filter": "datum.p=='S'"}],
             "mark": {"type": "text", "font": "Liberation Serif", "fontStyle": "italic", "fontSize": 14, "baseline": "alphabetic", "dy": -5, "color": "black"},
             "encoding": {"y": {"datum": 47, "type": "quantitative", "scale": {"type": "log", "domain": [0.03, 100]}, "title": null}, "text": {"field": "t"}}}
          ]
        }]
      },
      {
        "title": {"text": "(e)", "anchor": "start", "frame": "bounds", "font": "Liberation Sans", "fontWeight": "normal", "fontSize": 15, "offset": -15, "dx": 0},
        "vconcat": [{
          "width": 196, "height": 195,
          "title": {"text": "SARS-CoV-2 S1", "offset": 14},
          "encoding": {"x": {"field": "i", "type": "nominal", "sort": ["IgM","IgG","IgA"], "scale": {"paddingInner": 0, "paddingOuter": 0}, "axis": {"title": null, "labelAngle": 0, "labelFontSize": 13, "titleFontSize": 14, "domainWidth": 1.5, "tickWidth": 1.2, "tickSize": 4, "labelPadding": 3, "titlePadding": 4}}},
          "resolve": {"scale": {"xOffset": "independent"}},
          "layer": [
            {"data": {"name": "pts"}, "transform": [{"filter": "datum.p=='S1' && datum.g=='ICU'"}, {"flatten": ["v"]}, {"window": [{"op": "row_number", "as": "rn"}], "groupby": ["i"]}, {"window": [{"op": "percent_rank", "as": "pr"}], "sort": [{"field": "rn"}], "groupby": ["i"]}],
             "mark": {"type": "point", "filled": false, "size": 15, "strokeWidth": 0.8, "color": "#3a3aff", "opacity": 0.85},
             "encoding": {"y": {"field": "v", "type": "quantitative", "scale": {"type": "log", "domain": [0.03, 500]}, "title": null, "axis": {"values": [0.3,0.5,2,3,4,5,6,7,8,9,1,10,20,30,40,50,60,70,80,90,100,200,300,400,500], "labelExpr": "datum.value == 1 ? '1' : datum.value == 10 ? '10' : datum.value == 100 ? '100' : ''", "tickSize": {"condition": {"test": "datum.value == 1 || datum.value == 10 || datum.value == 100", "value": 5}, "value": 3}, "tickWidth": 1.2, "labelFontSize": 13, "titleFontSize": 14, "domainWidth": 1.5, "labelPadding": 1, "titlePadding": 2}},
               "xOffset": {"field": "pr", "type": "quantitative", "scale": {"domain": [-0.625, 2.946], "nice": false, "zero": false}}}},
            {"data": {"name": "pts"}, "transform": [{"filter": "datum.p=='S1' && datum.g=='Non-ICU'"}, {"flatten": ["v"]}, {"window": [{"op": "row_number", "as": "rn"}], "groupby": ["i"]}, {"window": [{"op": "percent_rank", "as": "pr"}], "sort": [{"field": "rn"}], "groupby": ["i"]}],
             "mark": {"type": "point", "filled": false, "size": 15, "strokeWidth": 0.8, "color": "#f0908f", "opacity": 0.85},
             "encoding": {"y": {"field": "v", "type": "quantitative", "scale": {"type": "log", "domain": [0.03, 500]}, "title": null},
               "xOffset": {"field": "pr", "type": "quantitative", "scale": {"domain": [-1.946, 1.625], "nice": false, "zero": false}}}},
            {"data": {"name": "sum"}, "transform": [{"filter": "datum.p=='S1'"}],
             "mark": {"type": "tick", "orient": "horizontal", "size": 22, "thickness": 1.8, "color": "black"},
             "encoding": {"y": {"field": "m", "type": "quantitative", "scale": {"type": "log", "domain": [0.03, 500]}, "title": null}, "xOffset": {"field": "g", "type": "nominal", "sort": ["ICU","Non-ICU"], "scale": {"paddingInner": 0.5, "paddingOuter": 0.6}}}},
            {"data": {"name": "sum"}, "transform": [{"filter": "datum.p=='S1'"}],
             "mark": {"type": "rule", "strokeWidth": 1.4, "color": "black"},
             "encoding": {"y": {"field": "lo", "type": "quantitative", "scale": {"type": "log", "domain": [0.03, 500]}, "title": null}, "y2": {"field": "hi"}, "xOffset": {"field": "g", "type": "nominal", "sort": ["ICU","Non-ICU"], "scale": {"paddingInner": 0.5, "paddingOuter": 0.6}}}},
            {"data": {"name": "sum"}, "transform": [{"filter": "datum.p=='S1'"}, {"fold": ["lo","hi"], "as": ["k","cv"]}],
             "mark": {"type": "tick", "orient": "horizontal", "size": 11, "thickness": 1.4, "color": "black"},
             "encoding": {"y": {"field": "cv", "type": "quantitative", "scale": {"type": "log", "domain": [0.03, 500]}, "title": null}, "xOffset": {"field": "g", "type": "nominal", "sort": ["ICU","Non-ICU"], "scale": {"paddingInner": 0.5, "paddingOuter": 0.6}}}},
            {"data": {"name": "sum"}, "transform": [{"filter": "datum.p=='S1'"}],
             "mark": {"type": "rule", "strokeWidth": 1, "color": "#444444"},
             "encoding": {"y": {"datum": 226, "type": "quantitative", "scale": {"type": "log", "domain": [0.03, 500]}, "title": null}, "y2": {"datum": 305}, "xOffset": {"field": "g", "type": "nominal", "sort": ["ICU","Non-ICU"], "scale": {"paddingInner": 0.5, "paddingOuter": 0.6}}}},
            {"data": {"name": "pv"}, "transform": [{"filter": "datum.p=='S1'"}],
             "mark": {"type": "tick", "orient": "horizontal", "size": 24, "thickness": 1, "color": "#444444"},
             "encoding": {"y": {"datum": 305, "type": "quantitative", "scale": {"type": "log", "domain": [0.03, 500]}, "title": null}}},
            {"data": {"name": "pv"}, "transform": [{"filter": "datum.p=='S1'"}],
             "mark": {"type": "text", "font": "Liberation Serif", "fontStyle": "italic", "fontSize": 14, "baseline": "alphabetic", "dy": -5, "color": "black"},
             "encoding": {"y": {"datum": 305, "type": "quantitative", "scale": {"type": "log", "domain": [0.03, 500]}, "title": null}, "text": {"field": "t"}}}
          ]
        }]
      }
      ]
    }
    ]
  },
  {
    "spacing": 22,
    "resolve": {"scale": {"color": "independent", "fill": "independent"}},
    "hconcat": [
    {
      "title": {"text": "(f)", "anchor": "start", "frame": "bounds", "font": "Liberation Sans", "fontWeight": "normal", "fontSize": 15, "offset": -15, "dx": 5},
      "vconcat": [{
        "width": 200, "height": 201,
        "title": {"text": "SARS-CoV-2 RBD", "offset": 10},
        "encoding": {"x": {"field": "i", "type": "nominal", "sort": ["IgM","IgG","IgA"], "scale": {"paddingInner": 0, "paddingOuter": 0}, "axis": {"title": "Antibody Isotypes", "labelAngle": 0, "labelFontSize": 13, "titleFontSize": 14, "domainWidth": 1.5, "tickWidth": 1.2, "tickSize": 4, "labelPadding": 3, "titlePadding": 4}}},
        "resolve": {"scale": {"xOffset": "independent"}},
        "layer": [
          {"data": {"name": "pts"}, "transform": [{"filter": "datum.p=='RBD' && datum.g=='ICU'"}, {"flatten": ["v"]}, {"window": [{"op": "row_number", "as": "rn"}], "groupby": ["i"]}, {"window": [{"op": "percent_rank", "as": "pr"}], "sort": [{"field": "rn"}], "groupby": ["i"]}],
           "mark": {"type": "point", "filled": false, "size": 15, "strokeWidth": 0.8, "color": "#3a3aff", "opacity": 0.85},
           "encoding": {"y": {"field": "v", "type": "quantitative", "scale": {"type": "log", "domain": [0.03, 500]}, "title": "Response Index", "axis": {"values": [0.3,0.5,2,3,4,5,6,7,8,9,1,10,20,30,40,50,60,70,80,90,100,200,300,400,500], "labelExpr": "datum.value == 1 ? '1' : datum.value == 10 ? '10' : datum.value == 100 ? '100' : ''", "tickSize": {"condition": {"test": "datum.value == 1 || datum.value == 10 || datum.value == 100", "value": 5}, "value": 3}, "tickWidth": 1.2, "labelFontSize": 13, "titleFontSize": 14, "domainWidth": 1.5, "labelPadding": 1, "titlePadding": 2}},
             "xOffset": {"field": "pr", "type": "quantitative", "scale": {"domain": [-0.625, 2.946], "nice": false, "zero": false}}}},
          {"data": {"name": "pts"}, "transform": [{"filter": "datum.p=='RBD' && datum.g=='Non-ICU'"}, {"flatten": ["v"]}, {"window": [{"op": "row_number", "as": "rn"}], "groupby": ["i"]}, {"window": [{"op": "percent_rank", "as": "pr"}], "sort": [{"field": "rn"}], "groupby": ["i"]}],
           "mark": {"type": "point", "filled": false, "size": 15, "strokeWidth": 0.8, "color": "#f0908f", "opacity": 0.85},
           "encoding": {"y": {"field": "v", "type": "quantitative", "scale": {"type": "log", "domain": [0.03, 500]}, "title": "Response Index"},
             "xOffset": {"field": "pr", "type": "quantitative", "scale": {"domain": [-1.946, 1.625], "nice": false, "zero": false}}}},
          {"data": {"name": "sum"}, "transform": [{"filter": "datum.p=='RBD'"}],
           "mark": {"type": "tick", "orient": "horizontal", "size": 22, "thickness": 1.8, "color": "black"},
           "encoding": {"y": {"field": "m", "type": "quantitative", "scale": {"type": "log", "domain": [0.03, 500]}, "title": "Response Index"}, "xOffset": {"field": "g", "type": "nominal", "sort": ["ICU","Non-ICU"], "scale": {"paddingInner": 0.5, "paddingOuter": 0.6}}}},
          {"data": {"name": "sum"}, "transform": [{"filter": "datum.p=='RBD'"}],
           "mark": {"type": "rule", "strokeWidth": 1.4, "color": "black"},
           "encoding": {"y": {"field": "lo", "type": "quantitative", "scale": {"type": "log", "domain": [0.03, 500]}, "title": "Response Index"}, "y2": {"field": "hi"}, "xOffset": {"field": "g", "type": "nominal", "sort": ["ICU","Non-ICU"], "scale": {"paddingInner": 0.5, "paddingOuter": 0.6}}}},
          {"data": {"name": "sum"}, "transform": [{"filter": "datum.p=='RBD'"}, {"fold": ["lo","hi"], "as": ["k","cv"]}],
           "mark": {"type": "tick", "orient": "horizontal", "size": 11, "thickness": 1.4, "color": "black"},
           "encoding": {"y": {"field": "cv", "type": "quantitative", "scale": {"type": "log", "domain": [0.03, 500]}, "title": "Response Index"}, "xOffset": {"field": "g", "type": "nominal", "sort": ["ICU","Non-ICU"], "scale": {"paddingInner": 0.5, "paddingOuter": 0.6}}}},
          {"data": {"name": "sum"}, "transform": [{"filter": "datum.p=='RBD'"}],
           "mark": {"type": "rule", "strokeWidth": 1, "color": "#444444"},
           "encoding": {"y": {"datum": 275, "type": "quantitative", "scale": {"type": "log", "domain": [0.03, 500]}, "title": "Response Index"}, "y2": {"datum": 355}, "xOffset": {"field": "g", "type": "nominal", "sort": ["ICU","Non-ICU"], "scale": {"paddingInner": 0.5, "paddingOuter": 0.6}}}},
          {"data": {"name": "pv"}, "transform": [{"filter": "datum.p=='RBD'"}],
           "mark": {"type": "tick", "orient": "horizontal", "size": 25, "thickness": 1, "color": "#444444"},
           "encoding": {"y": {"datum": 355, "type": "quantitative", "scale": {"type": "log", "domain": [0.03, 500]}, "title": "Response Index"}}},
          {"data": {"name": "pv"}, "transform": [{"filter": "datum.p=='RBD'"}],
           "mark": {"type": "text", "font": "Liberation Serif", "fontStyle": "italic", "fontSize": 14, "baseline": "alphabetic", "dy": -5, "color": "black"},
           "encoding": {"y": {"datum": 355, "type": "quantitative", "scale": {"type": "log", "domain": [0.03, 500]}, "title": "Response Index"}, "text": {"field": "t"}}}
        ]
      }]
    },
    {
      "data": {"name": "heat"},
      "facet": {"column": {"field": "ag", "type": "nominal", "sort": ["E","N","S trimer","S1","RBD"], "header": {"title": "Antibodies", "titleOrient": "bottom", "labelOrient": "bottom", "labelFontSize": 12, "titleFontSize": 14, "labelPadding": 4, "titlePadding": 6}}},
      "spacing": 4,
      "spec": {
        "width": 65, "height": 180,
        "encoding": {
          "x": {"field": "i", "type": "nominal", "sort": ["IgM","IgG","IgA"], "scale": {"paddingInner": 0, "paddingOuter": 0}, "axis": {"title": null, "labelAngle": 0, "labelFontSize": 9.5, "ticks": false, "domainWidth": 2, "domainColor": "#555555", "offset": 22, "labelPadding": -20}},
          "y": {"field": "g", "type": "nominal", "sort": ["ICU","Non-ICU"], "scale": {"paddingInner": 0, "paddingOuter": 0}, "axis": {"title": "(g)", "titleFont": "Liberation Sans", "titleFontWeight": "normal", "titleFontSize": 15, "titleAngle": 0, "titleAlign": "left", "titleBaseline": "top", "titleX": -44, "titleY": -33, "labelAngle": 270, "labelAlign": "center", "labelBaseline": "bottom", "labelFontSize": 14, "ticks": false, "domain": false, "labelPadding": 6}}
        },
        "layer": [
          {"mark": {"type": "rect"},
           "encoding": {"color": {"field": "val", "type": "quantitative", "scale": {"scheme": "viridis", "domain": [-2.45, 6.3]},
             "legend": {"title": "Average RIs (Log₂)", "orient": "right", "gradientLength": 180, "gradientThickness": 11, "offset": 10, "values": [-2,0,2,4,6], "labelFontSize": 9, "labelFontWeight": "bold", "titleOrient": "right", "titleFontSize": 14, "titleFontWeight": "bold"}}}},
          {"transform": [{"filter": "datum.s >= 1"}],
           "mark": {"type": "text", "text": "*", "color": "#ff0000", "fontSize": 14, "baseline": "middle", "font": "Liberation Sans", "fontWeight": "bold"},
           "encoding": {"y": {"field": "g", "type": "nominal", "sort": ["ICU","Non-ICU"], "bandPosition": 0.75}}},
          {"transform": [{"filter": "datum.s == 3"}],
           "mark": {"type": "text", "text": "*", "color": "#ff0000", "fontSize": 14, "baseline": "middle", "font": "Liberation Sans", "fontWeight": "bold"},
           "encoding": {"y": {"field": "g", "type": "nominal", "sort": ["ICU","Non-ICU"], "bandPosition": 0.655}}},
          {"transform": [{"filter": "datum.s == 3"}],
           "mark": {"type": "text", "text": "*", "color": "#ff0000", "fontSize": 14, "baseline": "middle", "font": "Liberation Sans", "fontWeight": "bold"},
           "encoding": {"y": {"field": "g", "type": "nominal", "sort": ["ICU","Non-ICU"], "bandPosition": 0.845}}}
        ]
      }
    }
    ]
  }
  ]
}
]
}
